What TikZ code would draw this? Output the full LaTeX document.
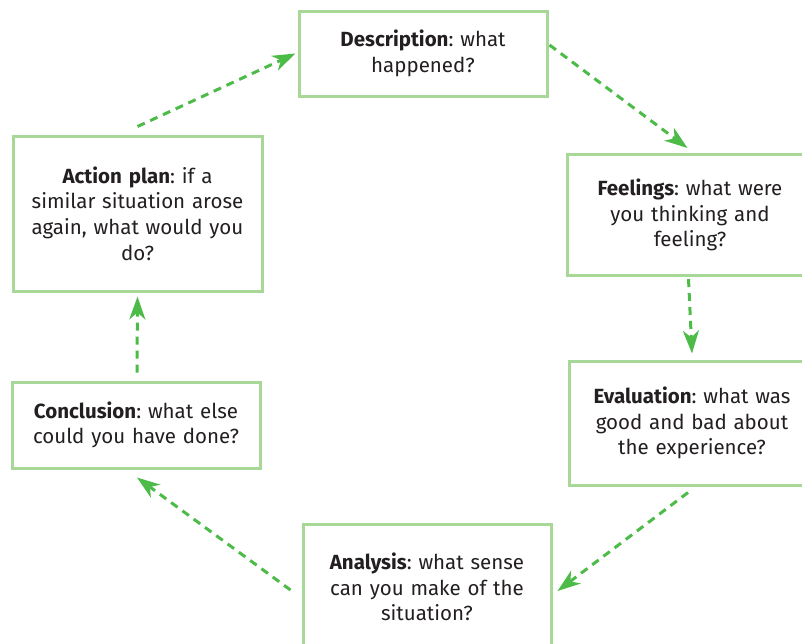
\documentclass[tikz,border=0pt]{standalone}
\usepackage{fontspec}
\setmainfont{Fira Sans}
\usetikzlibrary{arrows.meta}
\definecolor{boxgreen}{RGB}{168,216,152}
\definecolor{arrgreen}{RGB}{77,187,72}
\definecolor{txt}{RGB}{35,31,32}
\tikzset{
  stage/.style={draw=boxgreen, line width=3pt, fill=white, text=txt, align=center,
    font=\fontsize{20.5}{25.7}\selectfont, inner sep=0pt},
  flow/.style={draw=arrgreen, line width=3pt, dash pattern=on 8pt off 6pt,
    -{Stealth[length=23pt,width=16pt,inset=7pt]}}
}
\frenchspacing
\begin{document}
\begin{tikzpicture}[x=1pt,y=-1pt]
\useasboundingbox (0,0) rectangle (802,643);
\clip (0,0) rectangle (802,643);
\node[stage, minimum width=248pt, minimum height=85pt, text width=234pt] (desc) at (423,53.5) {\textbf{Description}: what\\happened?};
\node[stage, minimum width=245pt, minimum height=121pt, text width=230pt] (feel) at (690,215) {\textbf{Feelings}: what were\\you thinking and\\feeling?};
\node[stage, minimum width=246pt, minimum height=124pt, text width=230pt] (eval) at (692,423) {\textbf{Evaluation}: what was\\good and bad about\\the experience?};
\node[stage, minimum width=248pt, minimum height=126pt, text width=234pt] (anal) at (427,587) {\textbf{Analysis}: what sense\\can you make of the\\situation?};
\node[stage, minimum width=249pt, minimum height=155pt, text width=236pt] (act) at (137.5,213.5) {\textbf{Action plan}: if a\\similar situation arose\\again, what would you\\do?};
\node[stage, minimum width=248pt, minimum height=86pt, text width=236pt] (conc) at (136,425) {\textbf{Conclusion}: what else\\could you have done?};
\draw[flow] ([yshift=8pt]act.north) -- ([xshift=-2pt]desc.west);
\draw[flow] ([xshift=1pt,yshift=8.5pt]desc.east) -- ([xshift=-2.5pt,yshift=5pt]feel.north);
\draw[flow] ([xshift=-1.5pt,yshift=-2pt]feel.south) -- ([yshift=6pt]eval.north);
\draw[flow] ([xshift=-4pt,yshift=-6pt]eval.south) -- ([xshift=5pt,yshift=-4pt]anal.east);
\draw[flow] ([xshift=-11pt,yshift=-3pt]anal.west) -- ([xshift=1pt,yshift=-8pt]conc.south);
\draw[flow] ([xshift=1pt,yshift=8pt]conc.north) -- ([yshift=-4pt]act.south);
\end{tikzpicture}
\end{document}
